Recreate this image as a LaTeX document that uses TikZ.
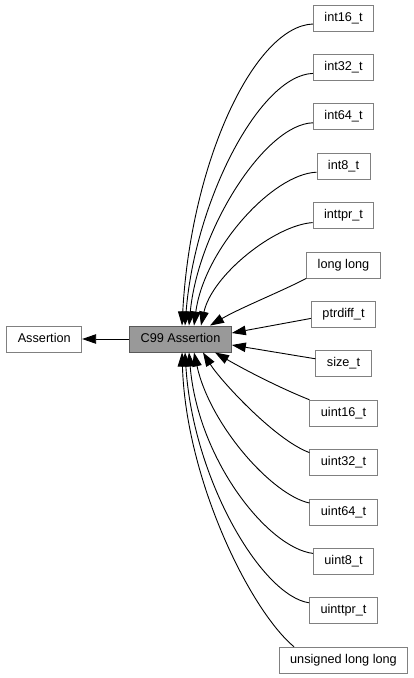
\documentclass[tikz,border=0pt]{standalone}
\usepackage{fontspec}
\setmainfont{Liberation Sans}
\usepackage{tikz}
\usetikzlibrary{shapes,arrows,arrows.meta,positioning}

\begin{document}
\begin{tikzpicture}[
    x=1pt, y=-1pt,
    node distance=22.5pt,
    font=\fontsize{12.7}{14}\selectfont,
    member/.style={rectangle, draw=black!50, line width=0.9pt, fill=white, minimum height=26pt, inner xsep=11pt, text height=9pt, text depth=2.7pt},
    current/.style={member, draw=black!65, fill=black!40},
    arrow/.style={-{Triangle[length=14pt,width=9.5pt]}, line width=0.9pt}
]
\useasboundingbox (0,0) rectangle (413,678);

% Main nodes
\node[current] (c99) at (180.5,339) {C99 Assertion};
\node[member, left=47pt of c99] (assertion) {Assertion};

% Types
\node[member] (int16) at (343.5,18) {int16\_t};
\node[member, below=of int16] (int32) {int32\_t};
\node[member, below=of int32] (int64) {int64\_t};
\node[member, below=of int64] (int8) {int8\_t};
\node[member, below=of int8] (inttpr) {inttpr\_t};
\node[member, below=of inttpr] (longlong) {long long};
\node[member, below=of longlong] (ptrdiff) {ptrdiff\_t};
\node[member, below=of ptrdiff] (sizet) {size\_t};
\node[member, below=of sizet] (uint16) {uint16\_t};
\node[member, below=of uint16] (uint32) {uint32\_t};
\node[member, below=of uint32] (uint64) {uint64\_t};
\node[member, below=of uint64] (uint8) {uint8\_t};
\node[member, below=of uint8] (uinttpr) {uinttpr\_t};
\node[member, below=of uinttpr] (ulonglong) {unsigned long long};

% Arrows
\draw[arrow] (c99) -- (assertion);
\draw[arrow] ([yshift=-6pt]int16.west) .. controls (255,26) and (191,160) .. ([xshift=1.5pt]c99.north);
\draw[arrow] ([yshift=-6pt]int32.west) .. controls (260,75) and (195,200) .. ([xshift=4.5pt]c99.north);
\draw[arrow] ([yshift=-6pt]int64.west) .. controls (265,124) and (198,230) .. ([xshift=8.5pt]c99.north);
\draw[arrow] ([yshift=-6pt]int8.west) .. controls (272,174) and (204,250) .. ([xshift=13.5pt]c99.north);
\draw[arrow] ([yshift=-7pt]inttpr.west) .. controls (275,225) and (212,275) .. ([xshift=20.5pt]c99.north);
\draw[arrow] (longlong.south west) .. controls (280,292) and (240,308) .. ([xshift=29.5pt]c99.north);
\draw[arrow] ([yshift=-4pt]ptrdiff.west) -- ([yshift=6pt]c99.east);
\draw[arrow] ([yshift=5pt]sizet.west) -- ([yshift=-6pt]c99.east);
\draw[arrow] (uint16.north west) .. controls (280,388) and (245,370) .. ([xshift=34.5pt]c99.south);
\draw[arrow] ([yshift=10pt]uint32.west) .. controls (275,440) and (220,380) .. ([xshift=22.5pt]c99.south);
\draw[arrow] ([yshift=9pt]uint64.west) .. controls (272,495) and (210,425) .. ([xshift=13.5pt]c99.south);
\draw[arrow] ([yshift=8pt]uint8.west) .. controls (268,548) and (198,460) .. ([xshift=8.5pt]c99.south);
\draw[arrow] ([yshift=8pt]uinttpr.west) .. controls (262,596) and (193,480) .. ([xshift=4.5pt]c99.south);
\draw[arrow] ([xshift=-49.5pt]ulonglong.north) .. controls (250,610) and (186,480) .. ([xshift=1.5pt]c99.south);
\end{tikzpicture}
\end{document}
